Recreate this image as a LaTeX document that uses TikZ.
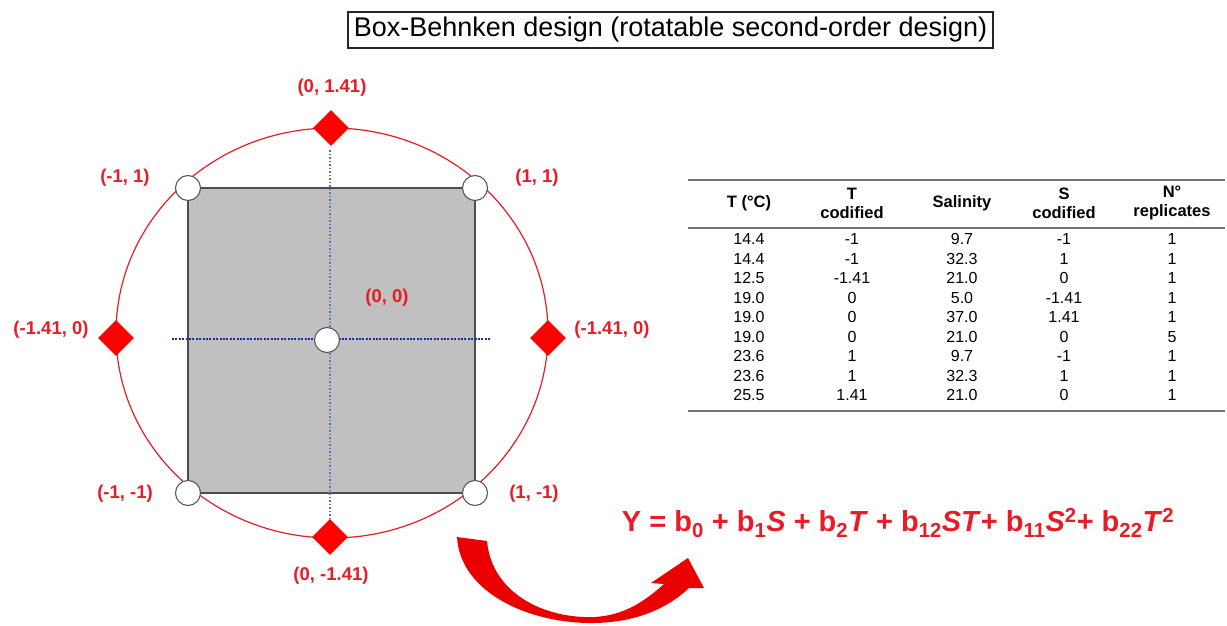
\documentclass[tikz,border=0pt]{standalone}
\usepackage{fontspec}
\setmainfont{Liberation Sans}
\usetikzlibrary{shapes.geometric, arrows}

\definecolor{ptred}{RGB}{232,28,38}
\definecolor{dotblue}{RGB}{25,45,170}
\definecolor{boxgray}{RGB}{192,192,192}

\begin{document}
\begin{tikzpicture}[x=1pt, y=-1pt]
        % Styles for the design plot and the table
        \tikzstyle{title} = [rectangle, draw=black!85, line width=1.2pt, minimum width=645pt,
                             minimum height=36pt, font=\fontsize{27}{30}\selectfont]
        \tikzstyle{axial} = [diamond, fill=red, minimum width=36pt, minimum height=36pt, inner sep=0pt]
        \tikzstyle{corner} = [circle, draw=black!65, fill=white, line width=1.1pt, minimum size=25pt, inner sep=0pt]
        \tikzstyle{lbl} = [text=ptred, font=\fontsize{18.5}{20}\selectfont\bfseries]
        \tikzstyle{head} = [font=\fontsize{16.5}{19}\selectfont\bfseries, align=center]
        \tikzstyle{cell} = [font=\fontsize{16}{18}\selectfont]
        \tikzstyle{rule} = [draw=black!55, line width=2.5pt]

        \useasboundingbox (0,0) rectangle (1227,626);

        % Title
        \node (title) [title] at (670.5,30) {Box-Behnken design (rotatable second-order design)};

        % Square and circle of the design
        \node (square) [rectangle, draw=black!70, fill=boxgray, line width=1.2pt,
                        minimum width=287pt, minimum height=305pt] at (331.5,340.5) {};
        \draw [ptred, line width=1.2pt] (332,333) ellipse [x radius=216pt, y radius=205pt];

        % Dotted axes
        \coordinate (hleft) at (172,339);
        \coordinate (hright) at (490,339);
        \coordinate (vtop) at (330,150);
        \coordinate (vbottom) at (330,518);
        \draw [dotblue, line width=2.6pt, dash pattern=on 2pt off 1.4pt] (hleft) -- (hright);
        \draw [dotblue!70, line width=1.5pt, dash pattern=on 1.5pt off 2pt] (vtop) -- (vbottom);

        % Design points
        \node (ptl) [corner] at (188,188) {};
        \node (ptr) [corner] at (475,188) {};
        \node (pbl) [corner] at (188,493) {};
        \node (pbr) [corner] at (475,493) {};
        \node (pcenter) [corner] at (327,340) {};
        \node (atop) [axial] at (331,128) {};
        \node (aleft) [axial] at (116,338) {};
        \node (aright) [axial] at (548,338) {};
        \node (abottom) [axial] at (330,537) {};

        % Coded levels
        \node (ltop) [lbl] at (332,88) {(0, 1.41)};
        \node (ltl) [lbl] at (125,178) {(-1, 1)};
        \node (ltr) [lbl] at (537,178) {(1, 1)};
        \node (lleft) [lbl] at (51,330) {(-1.41, 0)};
        \node (lright) [lbl] at (612,330) {(-1.41, 0)};
        \node (lcenter) [lbl] at (387,298) {(0, 0)};
        \node (lbl) [lbl] at (125,494) {(-1, -1)};
        \node (lbr) [lbl] at (534,494) {(1, -1)};
        \node (lbottom) [lbl] at (331,576) {(0, -1.41)};

        % Table
        \coordinate (rtopl) at (688,180);
        \coordinate (rtopr) at (1225,180);
        \coordinate (rmidl) at (688,228);
        \coordinate (rmidr) at (1225,228);
        \coordinate (rbotl) at (688,411);
        \coordinate (rbotr) at (1225,411);
        \draw [rule] (rtopl) -- (rtopr);
        \draw [rule, line width=1.8pt] (rmidl) -- (rmidr);
        \draw [rule] (rbotl) -- (rbotr);

        \node (htemp) [head] at (749,203) {T (°C)};
        \node (htcod) [head] at (852,203) {T\\codified};
        \node (hsal) [head] at (962,203) {Salinity};
        \node (hscod) [head] at (1064,203) {S\\codified};
        \node (hrep) [head] at (1172,203) {N°\\replicates};

        \foreach \t/\tc/\s/\sc/\n [count=\i] in {14.4/-1/9.7/-1/1, 14.4/-1/32.3/1/1, 12.5/-1.41/21.0/0/1,
                19.0/0/5.0/-1.41/1, 19.0/0/37.0/1.41/1, 19.0/0/21.0/0/5,
                23.6/1/9.7/-1/1, 23.6/1/32.3/1/1, 25.5/1.41/21.0/0/1} {
            \node (c\i a) [cell] at (749,219.5+19.55*\i) {\t};
            \node (c\i b) [cell] at (852,219.5+19.55*\i) {\tc};
            \node (c\i c) [cell] at (962,219.5+19.55*\i) {\s};
            \node (c\i d) [cell] at (1064,219.5+19.55*\i) {\sc};
            \node (c\i e) [cell] at (1172,219.5+19.55*\i) {\n};
        }

        % Model
        \node (model) [text=ptred, font=\fontsize{29}{32}\selectfont\bfseries] at (898,523)
            {Y = b\textsubscript{0} + b\textsubscript{1}\textit{S} + b\textsubscript{2}\textit{T} + b\textsubscript{12}\textit{ST}+ b\textsubscript{11}\textit{S}\textsuperscript{2}+ b\textsubscript{22}\textit{T}\textsuperscript{2}};

        % Curved arrow
        \fill [red!92!black] (457,537) .. controls (460,592) and (528,624) .. (595,623)
            .. controls (640,622) and (670,606) .. (689,588) -- (704,588) -- (688,558) -- (651,583) -- (664,584)
            .. controls (645,601) and (625,615) .. (595,617)
            .. controls (545,619) and (492,594) .. (487,541) -- cycle;
    \end{tikzpicture}
\end{document}
